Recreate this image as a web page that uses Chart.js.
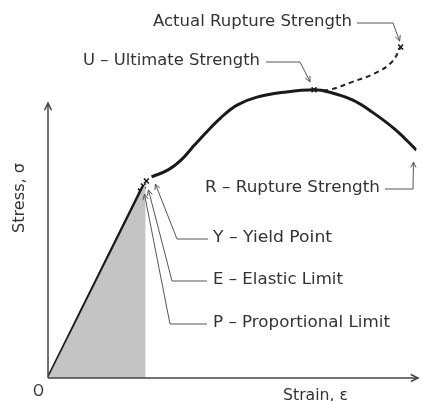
<!DOCTYPE html>
<html>
<head>
<meta charset="utf-8">
<script src="https://cdn.jsdelivr.net/npm/chart.js@4.4.0/dist/chart.umd.min.js"></script>
<style>
  html, body { margin: 0; padding: 0; background: #fff; overflow: hidden; }
  canvas { display: block; }
</style>
</head>
<body>
<canvas id="stressChart" width="422" height="401"></canvas>
<script>
// Stress-strain diagram, values in arbitrary units (0..100 on both axes)
const elasticStrain = [0, 25.1, 25.9];
const elasticStress = [0, 53.7, 55.2];

const shadeStrain = [0, 26.5];
const shadeStress = [0, 56.0];

const plasticStrain = [28.1, 32.6, 36.1, 39.8, 43.3, 46.8, 51.3, 56.7, 64.7, 72.2, 76.2, 82.6, 88.0, 94.1, 100];
const plasticStress = [57.8, 59.8, 62.6, 67.0, 71.0, 74.7, 78.4, 80.7, 82.2, 82.8, 82.2, 79.9, 76.4, 71.5, 65.5];

const ruptureStrain = [72.2, 76.2, 82.6, 88.8, 93.3, 95.7];
const ruptureStress = [82.8, 82.8, 85.1, 87.6, 90.8, 95.1];

// P, E, Y, U, actual rupture
const markerNames = ['P', 'E', 'Y', 'U', 'A'];
const markerStrain = [25.1, 25.9, 26.7, 72.2, 95.7];
const markerStress = [53.7, 55.2, 56.6, 82.8, 95.1];

const labelTexts = ['Actual Rupture Strength', 'U \u2013 Ultimate Strength', 'R \u2013 Rupture Strength',
                    'Y \u2013 Yield Point', 'E \u2013 Elastic Limit', 'P \u2013 Proportional Limit'];

function pts(xs, ys) {
    return xs.map((x, i) => ({ x: x, y: ys[i] }));
}

const FONT = '15px "DejaVu Sans", sans-serif';

// draw text squeezed/stretched to a given width
function fitText(ctx, text, x, y, width) {
    const w = ctx.measureText(text).width;
    ctx.save();
    ctx.translate(x, y);
    ctx.scale(width / w, 1);
    ctx.fillText(text, 0, 0);
    ctx.restore();
}

function arrowHead(ctx, fx, fy, tx, ty, size) {
    const a = Math.atan2(ty - fy, tx - fx);
    ctx.beginPath();
    ctx.moveTo(tx - size * Math.cos(a - 0.45), ty - size * Math.sin(a - 0.45));
    ctx.lineTo(tx, ty);
    ctx.lineTo(tx - size * Math.cos(a + 0.45), ty - size * Math.sin(a + 0.45));
    ctx.stroke();
}

// axes with arrows + text labels with leader lines
const diagramPlugin = {
    id: 'diagram',
    afterDatasetsDraw(chart) {
        const ctx = chart.ctx;
        const xs = chart.scales.x, ys = chart.scales.y;
        const ox = xs.getPixelForValue(0), oy = ys.getPixelForValue(0);
        ctx.save();

        // axes
        ctx.strokeStyle = '#444';
        ctx.lineWidth = 1.5;
        ctx.beginPath();
        ctx.moveTo(ox, oy); ctx.lineTo(418, oy);
        ctx.moveTo(ox, oy); ctx.lineTo(ox, 103);
        ctx.stroke();
        arrowHead(ctx, ox, oy, 418, oy, 8);
        arrowHead(ctx, ox, oy, ox, 103, 8);

        ctx.fillStyle = '#333';
        ctx.font = FONT;
        ctx.textBaseline = 'middle';
        fitText(ctx, 'O', 33, 392, 11);
        fitText(ctx, 'Strain, \u03b5', 283, 396, 65);
        ctx.save();
        ctx.translate(20, 233);
        ctx.rotate(-Math.PI / 2);
        fitText(ctx, 'Stress, \u03c3', 0, 0, 70);
        ctx.restore();

        const mk = i => ({ x: xs.getPixelForValue(markerStrain[i]), y: ys.getPixelForValue(markerStress[i]) });
        const last = plasticStrain.length - 1;
        const rEnd = { x: xs.getPixelForValue(plasticStrain[last]) - 3, y: ys.getPixelForValue(plasticStress[last]) + 12 };

        // [text, textX, textY, textWidth, elbowStartX, elbowX, tip]
        const labels = [
            [labelTexts[0], 153, 22, 199, 357, 393, { x: mk(4).x - 1, y: mk(4).y - 6 }],
            [labelTexts[1], 83, 61, 177, 266, 300, { x: mk(3).x - 4, y: mk(3).y - 8 }],
            [labelTexts[2], 205, 188, 175, 385, 413, rEnd],
            [labelTexts[3], 213, 238, 119, 208, 177, { x: mk(2).x + 9, y: mk(2).y + 3 }],
            [labelTexts[4], 213, 280, 130, 207, 172, { x: mk(1).x + 5, y: mk(1).y + 4 }],
            [labelTexts[5], 213, 323, 177, 207, 170, { x: mk(0).x + 4, y: mk(0).y + 3 }]
        ];
        labels.forEach(l => {
            ctx.fillStyle = '#333';
            fitText(ctx, l[0], l[1], l[2], l[3]);
            ctx.strokeStyle = '#555';
            ctx.lineWidth = 1;
            ctx.beginPath();
            ctx.moveTo(l[4], l[2] + 1);
            ctx.lineTo(l[5], l[2] + 1);
            ctx.lineTo(l[6].x, l[6].y);
            ctx.stroke();
            arrowHead(ctx, l[5], l[2] + 1, l[6].x, l[6].y, 6);
        });
        ctx.restore();
    }
};

new Chart(document.getElementById('stressChart'), {
    type: 'scatter',
    data: {
        datasets: [
            {
                label: 'shade',
                data: pts(shadeStrain, shadeStress),
                showLine: true,
                borderWidth: 0,
                borderColor: 'rgba(0,0,0,0)',
                backgroundColor: '#c4c4c4',
                fill: 'origin',
                pointRadius: 0
            },
            {
                label: 'elastic',
                data: pts(elasticStrain, elasticStress),
                showLine: true,
                borderColor: '#1a1a1a',
                borderWidth: 3.2,
                pointRadius: 0
            },
            {
                label: 'plastic',
                data: pts(plasticStrain, plasticStress),
                showLine: true,
                borderColor: '#1a1a1a',
                borderWidth: 3,
                tension: 0.4,
                pointRadius: 0
            },
            {
                label: 'actual',
                data: pts(ruptureStrain, ruptureStress),
                showLine: true,
                borderColor: '#222',
                borderWidth: 2,
                borderDash: [5, 4],
                tension: 0.4,
                pointRadius: 0
            },
            {
                label: 'markers',
                data: pts(markerStrain, markerStress),
                pointStyle: 'crossRot',
                pointRadius: 3.5,
                borderColor: '#111',
                borderWidth: 1.5
            }
        ]
    },
    options: {
        responsive: false,
        animation: false,
        devicePixelRatio: 1,
        layout: { padding: { left: 48, right: 0, top: 30, bottom: 23 } },
        plugins: {
            legend: { display: false },
            tooltip: { enabled: false }
        },
        elements: { line: { borderCapStyle: 'butt' } },
        scales: {
            x: { type: 'linear', min: 0, max: 100, display: false },
            y: { type: 'linear', min: 0, max: 100, display: false }
        }
    },
    plugins: [diagramPlugin]
});
</script>
</body>
</html>
